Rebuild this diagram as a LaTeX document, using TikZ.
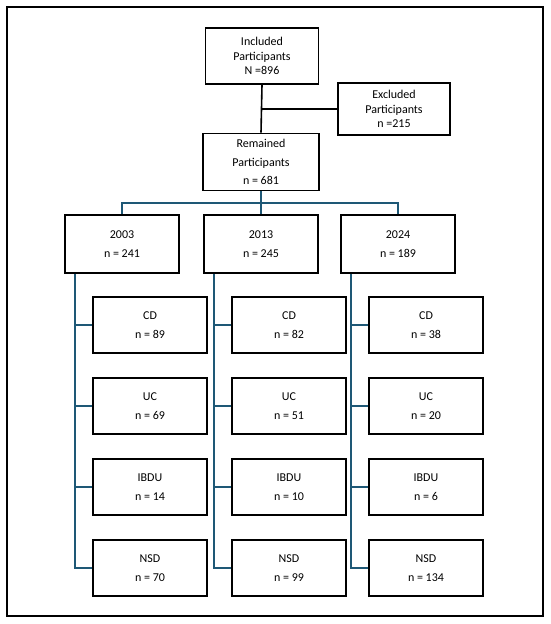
\documentclass[tikz,border=0pt]{standalone}
\usepackage{fontspec}
\setmainfont{Carlito}
\usepackage{tikz}
\definecolor{linkblue}{RGB}{30,88,118}
\tikzset{
  box/.style={draw,line width=1.6pt,minimum width=114pt,minimum height=57pt,
    inner sep=0pt,align=center,font=\fontsize{12}{19}\selectfont},
  link/.style={line width=1.6pt,linkblue},
  toplink/.style={line width=1.6pt,black}
}
\begin{document}
\begin{tikzpicture}[x=1pt,y=-1pt]
  \useasboundingbox (0,0) rectangle (550,624);
  \draw[line width=1.6pt] (7,7) rectangle (543,616);
  % top part
  \node[box,minimum width=113pt,minimum height=56pt,font=\fontsize{12}{14.5}\selectfont] (incl) at (262,56) {Included\\Participants\\N =896};
  \node[box,minimum width=112pt,minimum height=52pt,font=\fontsize{12}{14.5}\selectfont] (excl) at (394,109) {Excluded\\Participants\\n =215};
  \node[box,minimum width=116pt,font=\fontsize{12}{18.5}\selectfont] (rem) at (261,162) {Remained\\Participants\\n = 681};
  \draw[toplink] (incl.south) -- (rem.north);
  \draw[toplink] (incl.south |- excl.west) -- (excl.west);
  % years
  \node[box,minimum height=58pt] (y2003) at (122,244) {2003\\n = 241};
  \node[box,minimum height=58pt] (y2013) at (261,244) {2013\\n = 245};
  \node[box,minimum height=58pt] (y2024) at (398,244) {2024\\n = 189};
  \coordinate (bus) at (261,203);
  \draw[link] (rem.south) -- (y2013.north);
  \draw[link] (y2003.north) |- (bus) -| (y2024.north);
  % groups per year
  \foreach \yr/\x/\cd/\uc/\ibdu/\nsd in {2003/150/89/69/14/70,2013/289/82/51/10/99,2024/426/38/20/6/134}{
    \node[box,minimum height=56pt] (cd\yr) at (\x,325) {CD\\n = \cd};
    \node[box,minimum height=56pt] (uc\yr) at (\x,406) {UC\\n = \uc};
    \node[box,minimum height=56pt] (ibdu\yr) at (\x,487) {IBDU\\n = \ibdu};
    \node[box,minimum height=56pt] (nsd\yr) at (\x,568) {NSD\\n = \nsd};
    \coordinate (stem\yr) at ([xshift=11pt]y\yr.south west);
    \draw[link] (stem\yr) |- (nsd\yr.west);
    \foreach \g in {cd,uc,ibdu}
      \draw[link] (stem\yr |- \g\yr.west) -- (\g\yr.west);
  }
\end{tikzpicture}
\end{document}
